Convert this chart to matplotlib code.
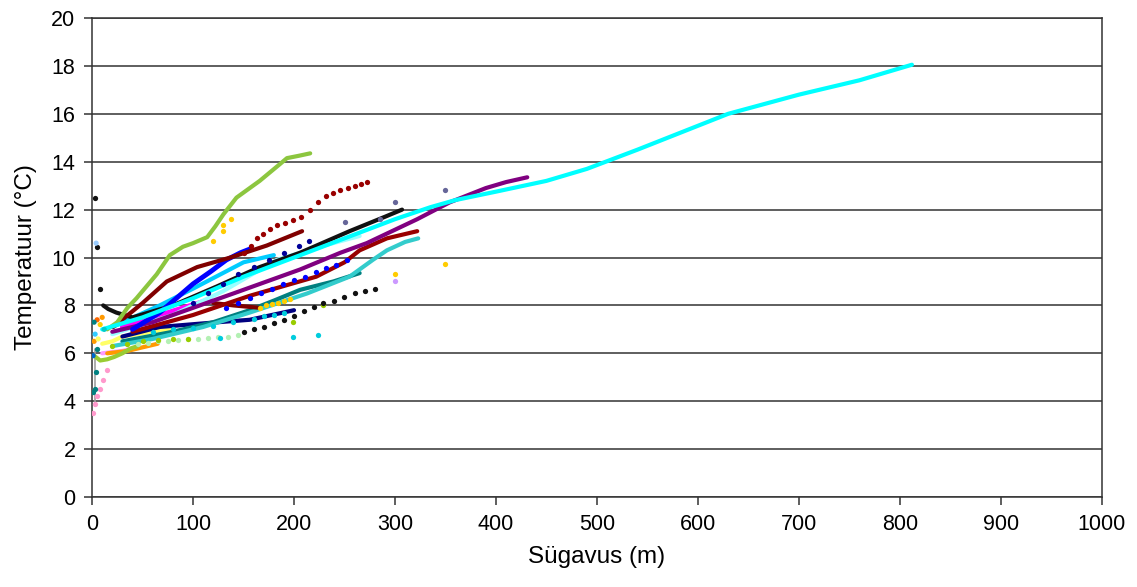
import matplotlib
matplotlib.use("Agg")
import matplotlib.pyplot as plt

plt.rcParams['font.family'] = ['Liberation Sans', 'DejaVu Sans']

# temperature profiles: depth (m) and temperature (C) per borehole
cyan_d = [10, 50, 100, 150, 200, 250, 300, 335, 360, 400, 450, 490, 540, 630, 700, 760, 812]
cyan_t = [7.0, 7.5, 8.3, 9.2, 10.0, 10.8, 11.6, 12.1, 12.4, 12.75, 13.2, 13.7, 14.5, 16.0, 16.8, 17.4, 18.05]

purple_d = [20, 60, 100, 140, 206, 246, 272, 322, 354, 390, 410, 431]
purple_t = [6.9, 7.3, 7.9, 8.5, 9.5, 10.2, 10.6, 11.6, 12.3, 12.9, 13.15, 13.35]

black_d = [11, 16, 24, 40, 80, 124, 166, 206, 255, 290, 307]
black_t = [8.0, 7.85, 7.7, 7.5, 8.0, 8.8, 9.6, 10.2, 11.1, 11.7, 12.0]

blacktop_d = [3, 5, 8]
blacktop_t = [12.5, 10.45, 8.7]

darkred_d = [21, 50, 74, 104, 137, 173, 208]
darkred_t = [7.1, 8.1, 9.0, 9.6, 10.0, 10.5, 11.1]

darkred2_d = [40, 100, 156, 189, 222, 250, 265, 292, 322]
darkred2_t = [6.9, 7.6, 8.4, 8.8, 9.2, 9.8, 10.3, 10.8, 11.1]

darkred3_d = [120, 140, 166]
darkred3_t = [8.1, 8.0, 7.9]

redpts_d = [150, 157, 163, 169, 176, 183, 191, 199, 207, 216, 224, 232, 239, 246, 253, 260, 266, 272]
redpts_t = [10.2, 10.5, 10.8, 11.0, 11.2, 11.35, 11.45, 11.55, 11.7, 12.0, 12.3, 12.55, 12.7, 12.8, 12.9, 13.0, 13.05, 13.15]

green_d = [15, 25, 35, 44, 58, 64, 77, 90, 100, 114, 122, 130, 143, 166, 186, 193, 205, 216]
green_t = [7.0, 7.3, 7.9, 8.3, 9.0, 9.3, 10.1, 10.45, 10.6, 10.85, 11.3, 11.8, 12.5, 13.2, 13.9, 14.15, 14.25, 14.35]

greenlow_d = [2, 8, 15, 22, 30, 38, 45]
greenlow_t = [5.9, 5.7, 5.75, 5.85, 6.0, 6.2, 6.3]

blue_d = [40, 67, 100, 117, 133, 147, 156]
blue_t = [7.0, 7.7, 8.9, 9.4, 9.9, 10.2, 10.35]

bluepts_d = [133, 145, 156, 167, 178, 189, 200, 211, 222, 232, 242, 252]
bluepts_t = [7.9, 8.1, 8.3, 8.5, 8.7, 8.9, 9.05, 9.2, 9.4, 9.55, 9.7, 9.9]

navypts_d = [100, 115, 130, 145, 160, 175, 190, 205, 215]
navypts_t = [8.1, 8.5, 8.9, 9.3, 9.6, 9.9, 10.2, 10.5, 10.7]

navy_d = [30, 67, 110, 156, 200]
navy_t = [6.7, 7.1, 7.25, 7.4, 7.8]

teal_d = [30, 80, 120, 156, 180, 206, 239, 265]
teal_t = [6.5, 6.9, 7.3, 7.8, 8.2, 8.65, 9.0, 9.35]

turq_d = [20, 60, 110, 156, 213, 255, 278, 292, 310, 323]
turq_t = [6.3, 6.6, 7.1, 7.7, 8.5, 9.2, 9.9, 10.3, 10.65, 10.8]

blackpts_d = [150, 160, 170, 180, 190, 200, 210, 220, 229, 240, 249, 260, 270, 280]
blackpts_t = [6.9, 7.0, 7.1, 7.25, 7.4, 7.55, 7.75, 7.95, 8.1, 8.2, 8.35, 8.5, 8.6, 8.7]

lcyan_d = [20, 80, 130, 183, 230, 265]
lcyan_t = [6.8, 7.6, 8.6, 9.9, 10.5, 10.9]

sky_d = [20, 67, 100, 150, 180]
sky_t = [7.1, 8.0, 8.7, 9.8, 10.1]

magenta_d = [30, 60, 90, 117]
magenta_t = [7.1, 7.5, 7.9, 8.25]

goldseg_d = [166, 172, 178, 184, 190, 196]
goldseg_t = [7.9, 8.0, 8.05, 8.1, 8.2, 8.25]

goldpts_d = [120, 130, 130, 138, 300, 350]
goldpts_t = [10.7, 11.1, 11.35, 11.6, 9.3, 9.75]

slate_d = [250, 285, 300, 350]
slate_t = [11.5, 11.6, 12.3, 12.8]

lgreen_d = [45, 55, 65, 75, 85, 95, 105, 115, 125, 135, 145]
lgreen_t = [6.4, 6.45, 6.5, 6.5, 6.55, 6.6, 6.6, 6.65, 6.7, 6.7, 6.75]

olive_d = [20, 35, 50, 65, 80, 95, 199, 229]
olive_t = [6.3, 6.4, 6.5, 6.55, 6.6, 6.6, 7.3, 8.0]

cyanpts_d = [60, 80, 100, 120, 127, 140, 160, 170, 180, 190, 199, 224]
cyanpts_t = [6.9, 7.0, 7.05, 7.15, 6.65, 7.3, 7.45, 7.55, 7.6, 7.7, 6.7, 6.75]

pink_d = [1, 3, 5, 8, 11, 15]
pink_t = [3.5, 3.9, 4.2, 4.5, 4.9, 5.3]

violet_d = [300]
violet_t = [9.0]

tealpts_d = [1, 3, 4, 5]
tealpts_t = [4.4, 4.5, 5.2, 6.2]

orange_d = [15, 25, 35, 45, 55, 65]
orange_t = [6.0, 6.05, 6.1, 6.2, 6.3, 6.4]

lpink_d = [10, 20, 30, 40]
lpink_t = [6.0, 6.05, 6.1, 6.2]

yellow_d = [10, 20, 30, 45, 60, 80]
yellow_t = [6.4, 6.5, 6.7, 6.8, 6.9, 7.0]

gray_d = [3, 3, 3, 3]
gray_t = [3.8, 4.6, 5.4, 6.2]

# scattered first readings near the surface
surf_d = [1, 2, 3, 5, 8, 10, 2, 6, 4, 12]
surf_t = [5.9, 6.5, 6.8, 7.4, 7.2, 7.5, 7.3, 6.6, 10.6, 7.0]
surf_c = ['#0066cc', '#ff9900', '#33ccff', '#ff6600', '#ffcc00', '#ff9900',
          '#008080', '#ffff66', '#99ccff', '#00cccc']

lines = [
    (gray_d, gray_t, '#a0a0a0', 1.2),
    (yellow_d, yellow_t, '#ffff66', 3),
    (lpink_d, lpink_t, '#ff99ff', 3),
    (orange_d, orange_t, '#ff9900', 3),
    (greenlow_d, greenlow_t, '#99cc33', 3),
    (navy_d, navy_t, '#000080', 3),
    (magenta_d, magenta_t, '#ff00ff', 3.5),
    (teal_d, teal_t, '#008080', 3),
    (turq_d, turq_t, '#33cccc', 3),
    (lcyan_d, lcyan_t, '#99ffff', 3),
    (sky_d, sky_t, '#00ccff', 3),
    (darkred3_d, darkred3_t, '#800000', 3),
    (darkred2_d, darkred2_t, '#990000', 3),
    (purple_d, purple_t, '#800080', 3),
    (black_d, black_t, '#111111', 3),
    (blue_d, blue_t, '#0000ff', 3.5),
    (darkred_d, darkred_t, '#800000', 3),
    (green_d, green_t, '#8cc63f', 3),
    (cyan_d, cyan_t, '#00ffff', 3),
]

dots = [
    (lgreen_d, lgreen_t, '#b3f0b3'),
    (olive_d, olive_t, '#99cc00'),
    (cyanpts_d, cyanpts_t, '#00ccdd'),
    (goldseg_d, goldseg_t, '#ffcc00'),
    (goldpts_d, goldpts_t, '#ffcc00'),
    (blackpts_d, blackpts_t, '#111111'),
    (blacktop_d, blacktop_t, '#111111'),
    (bluepts_d, bluepts_t, '#0000ff'),
    (navypts_d, navypts_t, '#000099'),
    (redpts_d, redpts_t, '#990000'),
    (slate_d, slate_t, '#666699'),
    (pink_d, pink_t, '#ff99cc'),
    (violet_d, violet_t, '#cc99ff'),
    (tealpts_d, tealpts_t, '#008080'),
]

fig = plt.figure(figsize=(11.37, 5.87), dpi=100)
ax = fig.add_axes([0.081, 0.1533, 0.888, 0.816])

for d, t, c, w in lines:
    ax.plot(d, t, color=c, lw=w, solid_capstyle='round', zorder=3)
for d, t, c in dots:
    ax.plot(d, t, 'o', color=c, ms=3.8, mew=0, zorder=4)
ax.scatter(surf_d, surf_t, c=surf_c, s=14, linewidths=0, zorder=4)

ax.set_xlim(0, 1000)
ax.set_ylim(0, 20)
ax.set_xticks(range(0, 1001, 100))
ax.set_yticks(range(0, 21, 2))
ax.yaxis.grid(True, color='#333333', lw=1.1)
ax.set_axisbelow(True)
for s in ax.spines.values():
    s.set_color('#333333')
    s.set_linewidth(1.1)
ax.tick_params(direction='out', length=6, width=1.1, color='#333333', labelsize=15.5, pad=6)

ax.set_xlabel('Sügavus (m)', fontsize=17.5, labelpad=8)
ax.set_ylabel('Temperatuur (°C)', fontsize=17.5, labelpad=10)

fig.savefig('out.png', dpi=100)
